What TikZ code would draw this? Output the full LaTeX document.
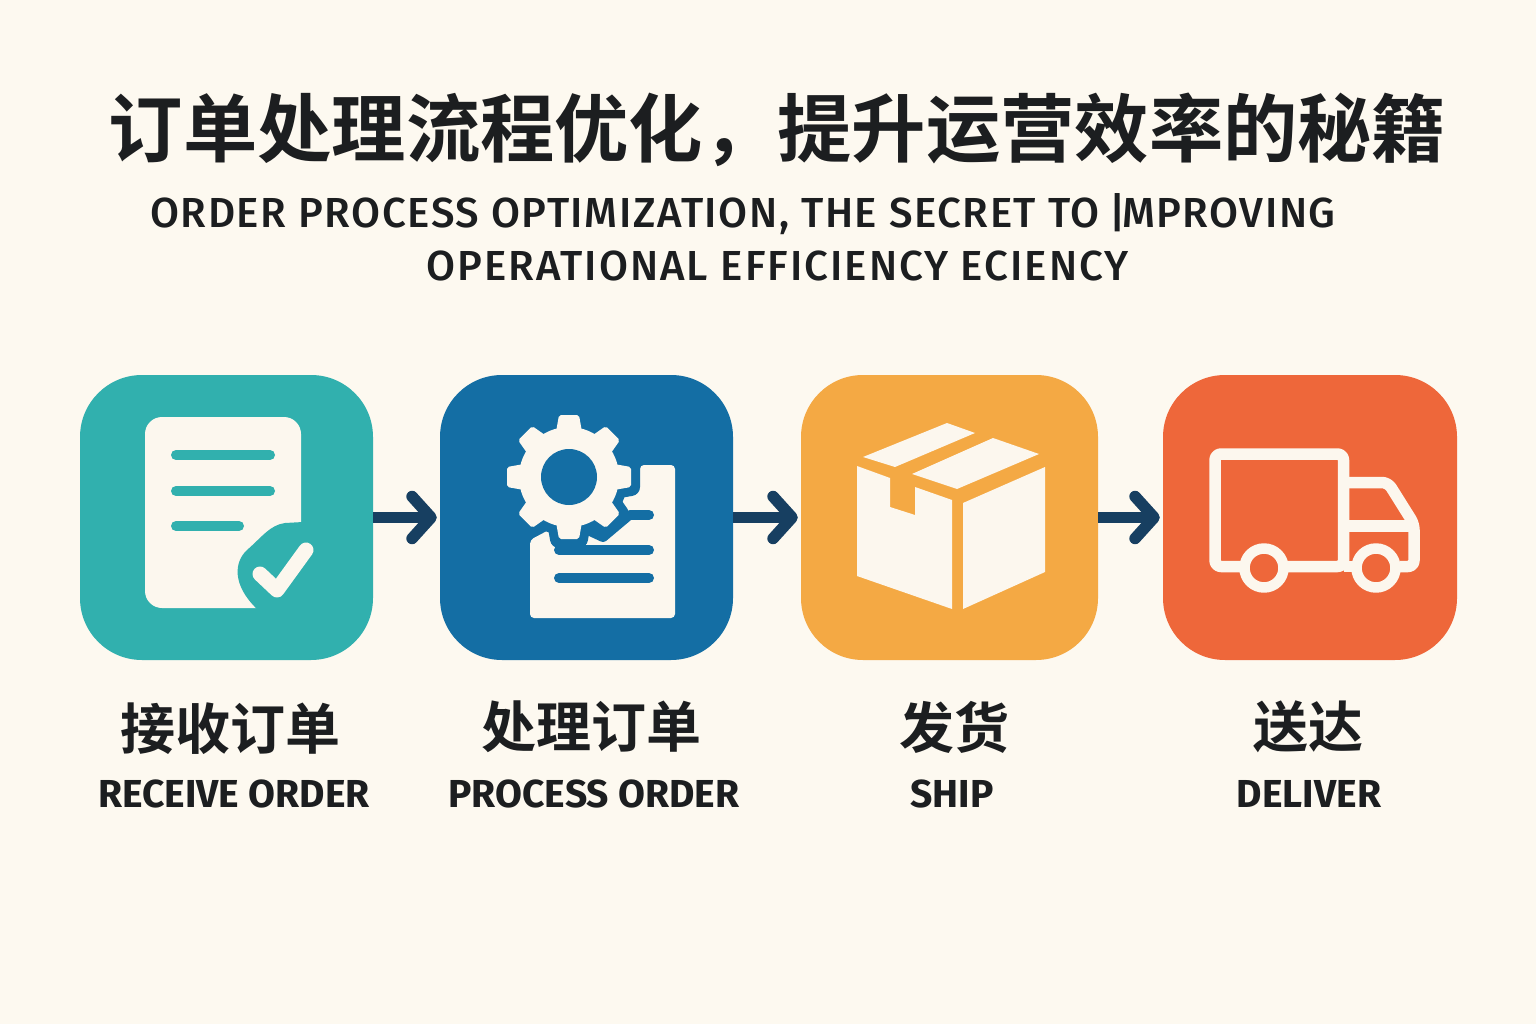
\documentclass[tikz,border=0pt]{standalone}
\usepackage{fontspec}
\usetikzlibrary{arrows.meta}
\newfontfamily\cjkb{Noto Sans CJK SC Bold}
\newfontfamily\subf{Fira Sans Medium}[LetterSpace=3.7]
\newfontfamily\subg{Fira Sans Medium}[LetterSpace=4.8]
\newfontfamily\labf{Fira Sans}[BoldFont=* Bold]
\definecolor{bg}{HTML}{FDF9F0}
\definecolor{paper}{HTML}{FCF7EE}
\definecolor{ink}{HTML}{1C1E20}
\definecolor{teal1}{HTML}{31B0AE}
\definecolor{blue1}{HTML}{146EA4}
\definecolor{orange1}{HTML}{F4A944}
\definecolor{red1}{HTML}{EE673A}
\definecolor{navy}{HTML}{173F61}
\tikzset{
 card/.style={draw=none,fill=#1,rounded corners=62pt,inner sep=0pt,minimum height=285pt},
 conn/.style={draw=navy,line width=10.5pt,-{Straight Barb[length=19pt,width=42pt,line width=11.5pt,round]},shorten >=3pt},
 cn/.style={font=\cjkb\fontsize{55}{55}\selectfont,text=ink,inner sep=0pt,anchor=center},
 en/.style={font=\labf\bfseries\fontsize{39}{39}\selectfont,text=ink,inner sep=0pt,anchor=center},
 sub/.style={font=\subf\fontsize{42}{42}\selectfont,text=ink,inner sep=0pt,anchor=base},
 subb/.style={font=\subg\fontsize{42}{42}\selectfont,text=ink,inner sep=0pt,anchor=base},
 docline/.style={line width=10pt,line cap=round},
 truckline/.style={draw=paper,line width=11.5pt,line join=round},
}
\begin{document}
\begin{tikzpicture}[x=1pt,y=-1pt]
\useasboundingbox[fill=bg] (0,0) rectangle (1536,1024);
\node[font=\cjkb\fontsize{74.3}{74.3}\selectfont,text=ink,inner sep=0pt] (title) at (777.5,130) {订单处理流程优化，提升运营效率的秘籍};
\node[sub] (s1) at (743,228) {ORDER PROCESS OPTIMIZATION, THE SECRET TO\kern-2pt{} |\kern-4pt{}MPROVING};
\node[subb] (s2) at (777.5,280) {OPERATIONAL EFFICIENCY ECIENCY};
\node[card=teal1,minimum width=293pt] (c1) at (226.5,517.5) {};
\node[card=blue1,minimum width=293pt] (c2) at (586.5,517.5) {};
\node[card=orange1,minimum width=297pt] (c3) at (949.5,517.5) {};
\node[card=red1,minimum width=294pt] (c4) at (1310,517.5) {};
\draw[conn] (c1) -- (c2);
\draw[conn] (c2) -- (c3);
\draw[conn] (c3) -- (c4);
% doc icon
\fill[paper,rounded corners=17pt] (145,417) rectangle (301,608);
\fill[teal1] (303,522) -- (285,523) .. controls (270,525) and (262,537) .. (247,550) .. controls (234,562) and (232,585) .. (257,609) -- (303,612) -- cycle;
\foreach \y/\x in {455/270,491/270,526/239}{\draw[teal1,docline] (176,\y) -- (\x,\y);}
\draw[paper,line width=15pt,line cap=round,line join=round] (260,574) -- (277,590) -- (306,550);
% gear+doc
\fill[paper,rounded corners=4pt] (640,490) -- (640,465) -- (675,465) -- (675,618) -- (530,618) -- (530,540) -- (547,531) -- cycle;
\foreach \y in {550,578}{\draw[blue1,docline] (559,\y) -- (649,\y);}
\draw[blue1,docline] (630,515) -- (649,515);
\draw[blue1,line width=10pt,line cap=round,line join=round] (628,516) -- (603,537) -- (588,530);
\begin{scope}[shift={(569,477)}]
\foreach \a in {0,45,...,315}{\fill[blue1,draw=blue1,line width=18pt,line join=round,rotate=\a] (45,-13) -- (62,-10) -- (62,10) -- (45,13) -- cycle;}
\fill[blue1] (0,0) circle (59pt);
\foreach \a in {0,45,...,315}{\fill[paper,rotate=\a,rounded corners=2pt] (45,-13) -- (62,-10) -- (62,10) -- (45,13) -- cycle;}
\fill[paper] (0,0) circle (50pt);
\fill[blue1] (0,0) circle (28pt);
\end{scope}
% box
\fill[paper] (863,457) -- (947,423) -- (975,433) -- (895,467) -- cycle;
\fill[paper] (912,474) -- (993,438) -- (1039,454) -- (957,489) -- cycle;
\fill[paper] (857,466) -- (890,478) -- (890,507) -- (915,515) -- (915,487) -- (952,500) -- (952,609) -- (857,576) -- cycle;
\fill[paper] (963,503) -- (1045,467) -- (1045,572) -- (963,609) -- cycle;
% truck
\draw[truckline,rounded corners=6pt] (1245,566.5) -- (1215,566.5) -- (1215,454) -- (1343.5,454) -- (1343.5,566.5) -- (1285,566.5);
\draw[truckline,rounded corners=6pt] (1343.5,482.5) -- (1388,482.5) -- (1414,524) -- (1414,566.5) -- (1400,566.5);
\draw[truckline] (1343.5,526) -- (1414,526);
\draw[truckline] (1343.5,566.5) -- (1354,566.5);
\draw[truckline,line width=10.5pt,fill=red1] (1264,568) circle (19.5pt);
\draw[truckline,line width=10.5pt,fill=red1] (1376,568) circle (19.5pt);
% labels
\node[cn] (l1a) at (230,729) {接收订单};
\node[en] (l1b) at (234,794) {RECEIVE ORDER};
\node[cn] (l2a) at (591,727) {处理订单};
\node[en] (l2b) at (594,794) {PROCESS ORDER};
\node[cn] (l3a) at (954,727) {发货};
\node[en] (l3b) at (952,794) {SHIP};
\node[cn] (l4a) at (1308,727) {送达};
\node[en] (l4b) at (1309,794) {DELIVER};
\end{tikzpicture}
\end{document}
